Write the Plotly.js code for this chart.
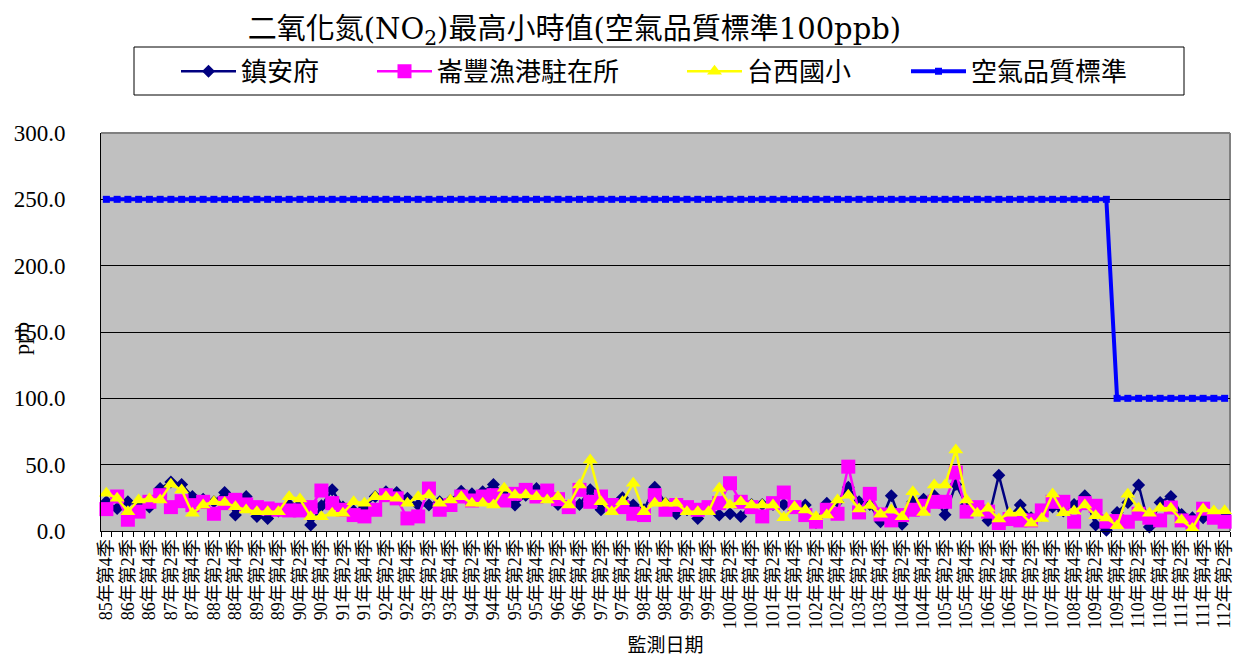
<!DOCTYPE html>
<html>
<head>
<meta charset="utf-8">
<script src="https://cdn.plot.ly/plotly-3.0.1.min.js"></script>
<style>html,body{margin:0;padding:0;background:#fff;}#chart{width:1234px;height:662px;}</style>
</head>
<body>
<div id="chart"></div>
<script>
const quarters = [
"85年第4季",
"86年第1季","86年第2季","86年第3季","86年第4季",
"87年第1季","87年第2季","87年第3季","87年第4季",
"88年第1季","88年第2季","88年第3季","88年第4季",
"89年第1季","89年第2季","89年第3季","89年第4季",
"90年第1季","90年第2季","90年第3季","90年第4季",
"91年第1季","91年第2季","91年第3季","91年第4季",
"92年第1季","92年第2季","92年第3季","92年第4季",
"93年第1季","93年第2季","93年第3季","93年第4季",
"94年第1季","94年第2季","94年第3季","94年第4季",
"95年第1季","95年第2季","95年第3季","95年第4季",
"96年第1季","96年第2季","96年第3季","96年第4季",
"97年第1季","97年第2季","97年第3季","97年第4季",
"98年第1季","98年第2季","98年第3季","98年第4季",
"99年第1季","99年第2季","99年第3季","99年第4季",
"100年第1季","100年第2季","100年第3季","100年第4季",
"101年第1季","101年第2季","101年第3季","101年第4季",
"102年第1季","102年第2季","102年第3季","102年第4季",
"103年第1季","103年第2季","103年第3季","103年第4季",
"104年第1季","104年第2季","104年第3季","104年第4季",
"105年第1季","105年第2季","105年第3季","105年第4季",
"106年第1季","106年第2季","106年第3季","106年第4季",
"107年第1季","107年第2季","107年第3季","107年第4季",
"108年第3季","108年第4季",
"109年第1季","109年第2季","109年第3季","109年第4季",
"110年第1季","110年第2季","110年第3季","110年第4季",
"111年第1季","111年第2季","111年第3季","111年第4季",
"112年第1季","112年第2季"
];

const zhenanfu = [
22,17,22,20,18,32,37,35,26,24,
22,29,12,26,11,9.5,15,20,20,4.5,
19,31,18,15,18,26,29.6,29,24.6,19.6,
19.6,22,23,30,28,29.6,35,28,19.6,27,
32,28,20,18,20,31,16,18,25,19.6,
16,33,21,13,16,9.5,17,12,13,11,
20,20,20,20,18,19.6,6.5,21,22,33,
22,20,7,26.5,5,22,24,26.5,12.3,35,
20,16,8,42,10.8,19.6,10,12,18,15,
20,26.5,4.5,0.5,14,21.5,34.7,3,21.5,26,
12.5,10,10,12,12
];

const lunfeng = [
16.5,26,8.5,14.6,22,27,18,22.5,19.5,22,
13,21,23.5,20,18,17,16,15.5,15.5,18,
30.5,21,16,12,11,16,27,24.6,9.5,11,
32,16,19.6,26,23,26,27,23,28,31,
26,30.5,24,18,31,22,26,19.6,18,13,
12,27,16,19.6,18,16,18,21,36,22,
18,11,21,29,18,12,7,16,13,48.5,
14,28,12.5,8,12,16,19,22,22,44,
14.6,18,14.6,6,9,8,8,15.5,22,22,
7,21,19,7,7.5,7,13,10,8,17.7,
8,6.5,16.8,10,7
];

const taixi = [
28.4,24.6,14.6,23.4,24.1,23.4,35.2,30.9,13.3,19.6,
22.1,21.4,18.3,15.8,14.6,14.6,14.6,25.9,24.1,10.8,
10.8,13.3,13.3,22.1,20.9,25.9,25.9,24.6,20.9,25.9,
27.1,20.9,23.4,25.9,20.9,20.9,19.6,32.2,27.1,27.1,
25.9,23.4,25.9,19.6,34.7,53.5,22.1,14.6,22.1,35.9,
14.6,20.9,20.9,20.9,14.6,14.6,14.6,32.2,19.6,22.1,
19.6,19.6,19.6,10,18.3,15.8,10.8,12.1,23.4,27,
16.5,19.2,12.7,15.8,10.8,29.6,14,34.7,34.7,61,
23.4,13.3,17.1,9,13.3,13.8,5.8,9.5,27.8,13.8,
15,19.6,11.5,9.8,4,27.7,17.1,13.3,17.1,17.1,
8.3,1.8,16.5,15.1,15.3
];

const standard = [
250,250,250,250,250,250,250,250,250,250,
250,250,250,250,250,250,250,250,250,250,
250,250,250,250,250,250,250,250,250,250,
250,250,250,250,250,250,250,250,250,250,
250,250,250,250,250,250,250,250,250,250,
250,250,250,250,250,250,250,250,250,250,
250,250,250,250,250,250,250,250,250,250,
250,250,250,250,250,250,250,250,250,250,
250,250,250,250,250,250,250,250,250,250,
250,250,250,250,100,100,100,100,100,100,
100,100,100,100,100
];

const seriesNames = ["鎮安府","崙豐漁港駐在所","台西國小","空氣品質標準"];
const tickText = quarters.map((q, i) => (i % 2 === 0 ? q : ""));

const cjk = "'Liberation Serif', 'Noto Sans CJK TC', serif";
const titleFont = "'DejaVu Serif', 'Noto Sans CJK TC', serif";

const traces = [
  {x: quarters, y: zhenanfu, name: seriesNames[0], legend: "legend", type: "scatter", mode: "lines+markers",
   line: {color: "#000080", width: 2.5}, marker: {symbol: "diamond", size: 10, color: "#000080"}, cliponaxis: false},
  {x: quarters, y: lunfeng, name: seriesNames[1], legend: "legend2", type: "scatter", mode: "lines+markers",
   line: {color: "#FF00FF", width: 2.5}, marker: {symbol: "square", size: 14, color: "#FF00FF"}, cliponaxis: false},
  {x: quarters, y: taixi, name: seriesNames[2], legend: "legend3", type: "scatter", mode: "lines+markers",
   line: {color: "#FFFF00", width: 2.5}, marker: {symbol: "triangle-up", size: 13, color: "#FFFF00"}, cliponaxis: false},
  {x: quarters, y: standard, name: seriesNames[3], legend: "legend4", type: "scatter", mode: "lines+markers",
   line: {color: "#0000FF", width: 4}, marker: {symbol: "square", size: 7, color: "#0000FF"}, cliponaxis: false}
];

function legendAt(px) {
  return {
    orientation: "h",
    x: (px - 101) / 1129, xanchor: "left",
    y: 1.214, yanchor: "top",
    bgcolor: "rgba(0,0,0,0)", borderwidth: 0,
    itemwidth: 55,
    font: {family: "'Noto Sans CJK TC', sans-serif", size: 26, color: "#000000"}
  };
}

const layout = {
  width: 1234, height: 662,
  margin: {l: 101, r: 4, t: 133, b: 131, pad: 0},
  paper_bgcolor: "#FFFFFF",
  plot_bgcolor: "#C0C0C0",
  font: {family: cjk, color: "#000000"},
  title: {
    text: "二氧化氮(NO<sub>2</sub>)最高小時值(空氣品質標準100ppb)",
    font: {family: titleFont, size: 29, color: "#000000"},
    xref: "container", yref: "container",
    x: 0.4655, xanchor: "center", y: 0.956, yanchor: "middle"
  },
  showlegend: true,
  legend: legendAt(176),
  legend2: legendAt(372),
  legend3: legendAt(682),
  legend4: legendAt(906),
  xaxis: {
    type: "category",
    categoryorder: "array",
    categoryarray: quarters,
    range: [-0.5, quarters.length - 0.5],
    tickmode: "array",
    tickvals: quarters,
    ticktext: tickText,
    tickangle: -90,
    tickson: "boundaries",
    ticks: "outside", ticklen: 5, tickcolor: "#000000", tickwidth: 1,
    showline: true, linecolor: "#000000", linewidth: 1,
    showgrid: false, zeroline: false,
    tickfont: {family: cjk, size: 18, color: "#000000"},
    title: {text: "監測日期", font: {family: "'Noto Sans CJK TC', sans-serif", size: 19, color: "#000000"}, standoff: 10},
    automargin: false, fixedrange: true
  },
  yaxis: {
    range: [0, 300],
    tick0: 0, dtick: 50,
    tickformat: ".1f",
    ticks: "",
    ticklabelstandoff: 30,
    showline: true, linecolor: "#000000", linewidth: 1,
    showgrid: true, gridcolor: "#000000", gridwidth: 1,
    zeroline: false,
    tickfont: {family: "'Liberation Serif', serif", size: 23, color: "#000000"},
    automargin: false, fixedrange: true
  },
  shapes: [
    {type: "line", xref: "paper", yref: "paper", x0: 0, x1: 1, y0: 1, y1: 1,
     line: {color: "#808080", width: 2}, layer: "below"},
    {type: "line", xref: "paper", yref: "paper", x0: 1, x1: 1, y0: 0, y1: 1,
     line: {color: "#808080", width: 2}, layer: "below"},
    {type: "rect", xref: "paper", yref: "paper",
     x0: (134 - 101) / 1129, x1: (1184 - 101) / 1129, y0: (531 - 95) / 398, y1: (531 - 47) / 398,
     line: {color: "#000000", width: 1}, fillcolor: "rgba(0,0,0,0)", layer: "above"}
  ],
  annotations: [
    {text: "ppb", xref: "paper", yref: "paper", x: -0.07, y: 0.485,
     xanchor: "center", yanchor: "middle", textangle: -90, showarrow: false,
     font: {family: "'Liberation Serif', serif", size: 22, color: "#000000"}}
  ]
};

Plotly.newPlot("chart", traces, layout, {displayModeBar: false, staticPlot: true});
</script>
</body>
</html>
